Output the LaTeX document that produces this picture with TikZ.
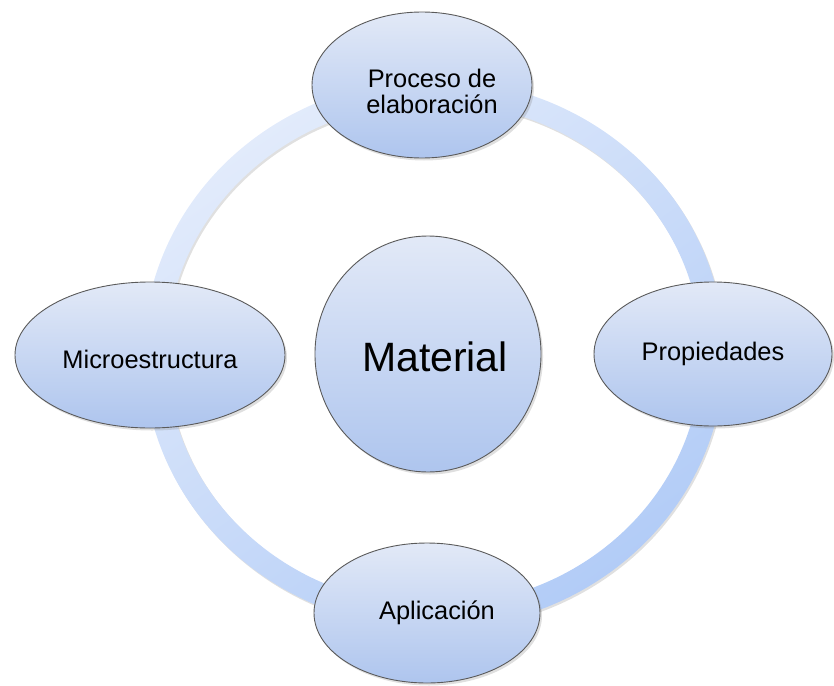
\documentclass[tikz,border=0pt]{standalone}
\usepackage{fontspec}
\setmainfont{Liberation Sans}
\usetikzlibrary{shapes.geometric,shadows}
\definecolor{ftop}{RGB}{226,233,247}
\definecolor{fbot}{RGB}{174,197,238}
\definecolor{rlight}{RGB}{226,235,251}
\definecolor{rdark}{RGB}{178,204,247}
\definecolor{edge}{RGB}{90,90,90}
\tikzset{
  bubble/.style={ellipse, draw=edge, line width=0.9pt, inner sep=0pt,
    top color=ftop, bottom color=fbot,
    font=\fontsize{25.4}{26}\selectfont,
    drop shadow={shadow xshift=2pt, shadow yshift=-2.5pt, opacity=0.25}},
}
\begin{document}
\begin{tikzpicture}[x=1pt,y=-1pt]
\useasboundingbox (0,0) rectangle (834,685);
\coordinate (c) at (434,354);
\fill[black, opacity=0.12, even odd rule]
  (435.5,356) ellipse[x radius=290.5, y radius=274.5]
  (435.5,356) ellipse[x radius=267.5, y radius=251.5];
\shade[even odd rule, top color=rlight, bottom color=rdark, shading angle=35]
  (c) ellipse[x radius=290.5, y radius=274.5]
  (c) ellipse[x radius=267.5, y radius=251.5];
\node[bubble, minimum width=220, minimum height=146] (top) at (422,85)
  {\hspace*{20pt}\raisebox{-10pt}[\height][\depth]{\begin{tabular}{@{}c@{}}Proceso de\\elaboración\end{tabular}}};
\node[bubble, minimum width=238, minimum height=144] (right) at (713,354) {Propiedades};
\node[bubble, minimum width=270, minimum height=146] (left) at (150,355) {\raisebox{-4pt}[\height][\depth]{Microestructura}};
\node[bubble, minimum width=226, minimum height=140] (bottom) at (427,613) {\hspace*{20pt}Aplicación};
\node[bubble, minimum width=222, minimum height=236, font=\fontsize{41}{45}\selectfont] (mat) at (428,354) {\hspace*{14pt}\raisebox{-3pt}[\height][\depth]{Material}};
\end{tikzpicture}
\end{document}
